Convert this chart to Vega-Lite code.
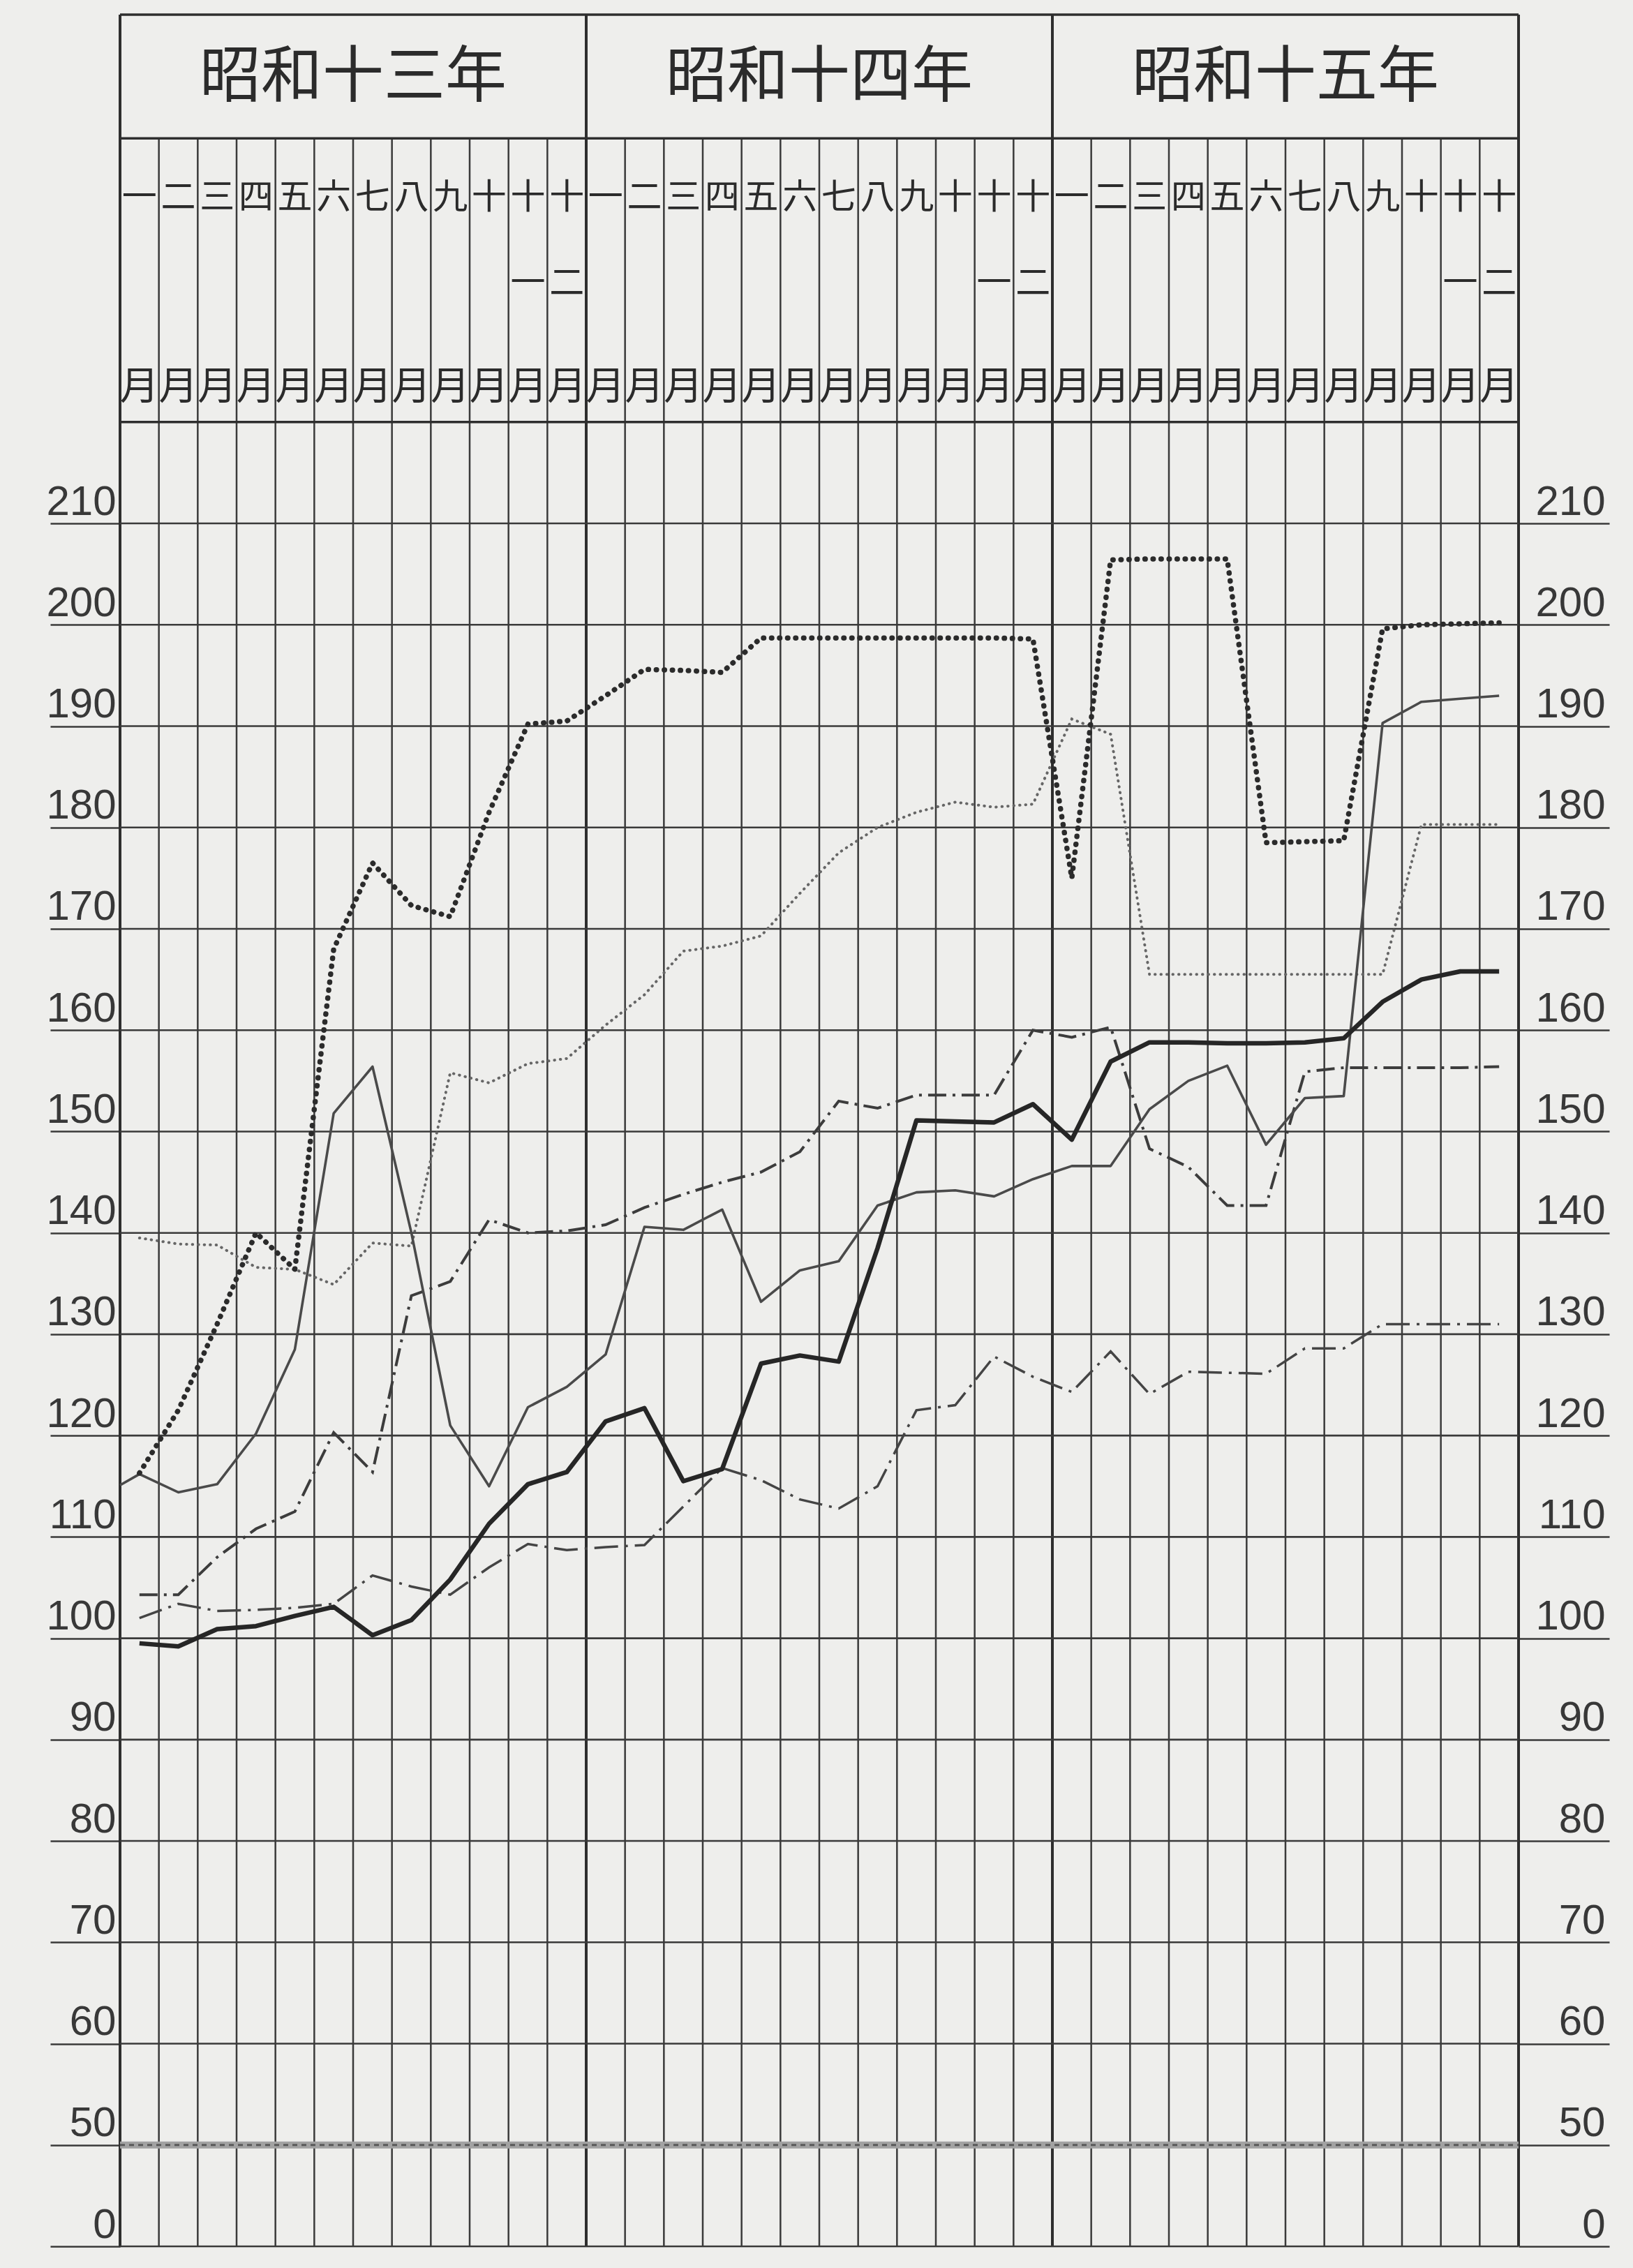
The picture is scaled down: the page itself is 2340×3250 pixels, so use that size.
{
  "$schema": "https://vega.github.io/schema/vega-lite/v6.json",
  "width": 2004,
  "height": 3198,
  "autosize": {"type": "none"},
  "padding": {"left": 172, "top": 21, "right": 164, "bottom": 31},
  "background": "#eeeeec",
  "config": {"view": {"stroke": null}},
  "datasets": {
    "edges": [{"e":-0.5},{"e":0.5},{"e":1.5},{"e":2.5},{"e":3.5},{"e":4.5},{"e":5.5},{"e":6.5},{"e":7.5},{"e":8.5},{"e":9.5},{"e":10.5},{"e":11.5},{"e":12.5},{"e":13.5},{"e":14.5},{"e":15.5},{"e":16.5},{"e":17.5},{"e":18.5},{"e":19.5},{"e":20.5},{"e":21.5},{"e":22.5},{"e":23.5},{"e":24.5},{"e":25.5},{"e":26.5},{"e":27.5},{"e":28.5},{"e":29.5},{"e":30.5},{"e":31.5},{"e":32.5},{"e":33.5},{"e":34.5},{"e":35.5}],
    "borders": [{"e":-0.5},{"e":11.5},{"e":23.5},{"e":35.5}],
    "hgrid": [{"g":40},{"g":60},{"g":70},{"g":80},{"g":90},{"g":100},{"g":110},{"g":120},{"g":130},{"g":140},{"g":150},{"g":160},{"g":170},{"g":180},{"g":190},{"g":200},{"g":210}],
    "hhead": [{"g":220},{"g":248},{"g":260.2}],
    "brk": [{"g":50}],
    "years": [{"m":5.5,"t":"昭和十三年"},{"m":17.5,"t":"昭和十四年"},{"m":29.5,"t":"昭和十五年"}],
    "months": [
      {"m":0,"top":"一","mid":""},{"m":1,"top":"二","mid":""},{"m":2,"top":"三","mid":""},{"m":3,"top":"四","mid":""},{"m":4,"top":"五","mid":""},{"m":5,"top":"六","mid":""},{"m":6,"top":"七","mid":""},{"m":7,"top":"八","mid":""},{"m":8,"top":"九","mid":""},{"m":9,"top":"十","mid":""},{"m":10,"top":"十","mid":"一"},{"m":11,"top":"十","mid":"二"},
      {"m":12,"top":"一","mid":""},{"m":13,"top":"二","mid":""},{"m":14,"top":"三","mid":""},{"m":15,"top":"四","mid":""},{"m":16,"top":"五","mid":""},{"m":17,"top":"六","mid":""},{"m":18,"top":"七","mid":""},{"m":19,"top":"八","mid":""},{"m":20,"top":"九","mid":""},{"m":21,"top":"十","mid":""},{"m":22,"top":"十","mid":"一"},{"m":23,"top":"十","mid":"二"},
      {"m":24,"top":"一","mid":""},{"m":25,"top":"二","mid":""},{"m":26,"top":"三","mid":""},{"m":27,"top":"四","mid":""},{"m":28,"top":"五","mid":""},{"m":29,"top":"六","mid":""},{"m":30,"top":"七","mid":""},{"m":31,"top":"八","mid":""},{"m":32,"top":"九","mid":""},{"m":33,"top":"十","mid":""},{"m":34,"top":"十","mid":"一"},{"m":35,"top":"十","mid":"二"}
    ],
    "A": [{"m":0,"v":116.3},{"m":1,"v":122.5},{"m":2,"v":131},{"m":3,"v":140},{"m":4,"v":136.4},{"m":5,"v":168},{"m":6,"v":176.5},{"m":7,"v":172.3},{"m":8,"v":171.2},{"m":9,"v":181.5},{"m":10,"v":190.2},{"m":11,"v":190.5},{"m":12,"v":193},{"m":13,"v":195.6},{"m":14,"v":195.5},{"m":15,"v":195.3},{"m":16,"v":198.7},{"m":17,"v":198.7},{"m":18,"v":198.7},{"m":19,"v":198.7},{"m":20,"v":198.7},{"m":21,"v":198.7},{"m":22,"v":198.7},{"m":23,"v":198.6},{"m":24,"v":175},{"m":25,"v":206.4},{"m":26,"v":206.5},{"m":27,"v":206.5},{"m":28,"v":206.5},{"m":29,"v":178.5},{"m":30,"v":178.6},{"m":31,"v":178.7},{"m":32,"v":199.6},{"m":33,"v":200},{"m":34,"v":200.1},{"m":35,"v":200.2}],
    "B": [{"m":-0.5,"v":115.1},{"m":0,"v":116.2},{"m":1,"v":114.4},{"m":2,"v":115.2},{"m":3,"v":120.2},{"m":4,"v":128.5},{"m":5,"v":151.8},{"m":6,"v":156.4},{"m":7,"v":140},{"m":8,"v":121},{"m":9,"v":115},{"m":10,"v":122.8},{"m":11,"v":124.8},{"m":12,"v":128},{"m":13,"v":140.6},{"m":14,"v":140.3},{"m":15,"v":142.3},{"m":16,"v":133.2},{"m":17,"v":136.3},{"m":18,"v":137.2},{"m":19,"v":142.7},{"m":20,"v":144},{"m":21,"v":144.2},{"m":22,"v":143.6},{"m":23,"v":145.3},{"m":24,"v":146.6},{"m":25,"v":146.6},{"m":26,"v":152.2},{"m":27,"v":155},{"m":28,"v":156.5},{"m":29,"v":148.7},{"m":30,"v":153.3},{"m":31,"v":153.5},{"m":32,"v":190.3},{"m":33,"v":192.4},{"m":34,"v":192.7},{"m":35,"v":193}],
    "C": [{"m":0,"v":99.5},{"m":1,"v":99.2},{"m":2,"v":100.9},{"m":3,"v":101.2},{"m":4,"v":102.2},{"m":5,"v":103.1},{"m":6,"v":100.3},{"m":7,"v":101.8},{"m":8,"v":105.8},{"m":9,"v":111.3},{"m":10,"v":115.2},{"m":11,"v":116.4},{"m":12,"v":121.4},{"m":13,"v":122.7},{"m":14,"v":115.5},{"m":15,"v":116.7},{"m":16,"v":127.1},{"m":17,"v":127.9},{"m":18,"v":127.3},{"m":19,"v":138.5},{"m":20,"v":151.1},{"m":21,"v":151},{"m":22,"v":150.9},{"m":23,"v":152.7},{"m":24,"v":149.2},{"m":25,"v":156.9},{"m":26,"v":158.8},{"m":27,"v":158.8},{"m":28,"v":158.7},{"m":29,"v":158.7},{"m":30,"v":158.8},{"m":31,"v":159.2},{"m":32,"v":162.8},{"m":33,"v":165},{"m":34,"v":165.8},{"m":35,"v":165.8}],
    "D": [{"m":0,"v":104.3},{"m":1,"v":104.3},{"m":2,"v":108},{"m":3,"v":110.8},{"m":4,"v":112.5},{"m":5,"v":120.3},{"m":6,"v":116.4},{"m":7,"v":133.8},{"m":8,"v":135.2},{"m":9,"v":141.3},{"m":10,"v":140},{"m":11,"v":140.2},{"m":12,"v":140.8},{"m":13,"v":142.5},{"m":14,"v":143.8},{"m":15,"v":145},{"m":16,"v":146},{"m":17,"v":148},{"m":18,"v":153},{"m":19,"v":152.3},{"m":20,"v":153.6},{"m":21,"v":153.6},{"m":22,"v":153.6},{"m":23,"v":160},{"m":24,"v":159.3},{"m":25,"v":160.3},{"m":26,"v":148.3},{"m":27,"v":146.5},{"m":28,"v":142.7},{"m":29,"v":142.7},{"m":30,"v":155.9},{"m":31,"v":156.3},{"m":32,"v":156.3},{"m":33,"v":156.3},{"m":34,"v":156.3},{"m":35,"v":156.4}],
    "E": [{"m":0,"v":102},{"m":1,"v":103.4},{"m":2,"v":102.7},{"m":3,"v":102.8},{"m":4,"v":103},{"m":5,"v":103.4},{"m":6,"v":106.2},{"m":7,"v":105.1},{"m":8,"v":104.3},{"m":9,"v":107},{"m":10,"v":109.3},{"m":11,"v":108.7},{"m":12,"v":109},{"m":13,"v":109.2},{"m":14,"v":113},{"m":15,"v":116.8},{"m":16,"v":115.6},{"m":17,"v":113.7},{"m":18,"v":112.8},{"m":19,"v":115},{"m":20,"v":122.5},{"m":21,"v":123},{"m":22,"v":127.8},{"m":23,"v":125.8},{"m":24,"v":124.3},{"m":25,"v":128.3},{"m":26,"v":124.1},{"m":27,"v":126.3},{"m":28,"v":126.2},{"m":29,"v":126.1},{"m":30,"v":128.6},{"m":31,"v":128.6},{"m":32,"v":131},{"m":33,"v":131},{"m":34,"v":131},{"m":35,"v":131}],
    "F": [{"m":0,"v":139.5},{"m":1,"v":138.9},{"m":2,"v":138.8},{"m":3,"v":136.6},{"m":4,"v":136.4},{"m":5,"v":134.9},{"m":6,"v":139},{"m":7,"v":138.7},{"m":8,"v":155.8},{"m":9,"v":154.8},{"m":10,"v":156.7},{"m":11,"v":157.2},{"m":12,"v":160.5},{"m":13,"v":163.5},{"m":14,"v":167.8},{"m":15,"v":168.3},{"m":16,"v":169.3},{"m":17,"v":173.5},{"m":18,"v":177.5},{"m":19,"v":180},{"m":20,"v":181.5},{"m":21,"v":182.5},{"m":22,"v":182},{"m":23,"v":182.3},{"m":24,"v":190.7},{"m":25,"v":189.2},{"m":26,"v":165.5},{"m":27,"v":165.5},{"m":28,"v":165.5},{"m":29,"v":165.5},{"m":30,"v":165.5},{"m":31,"v":165.5},{"m":32,"v":165.5},{"m":33,"v":180.3},{"m":34,"v":180.3},{"m":35,"v":180.3}]
  },
  "resolve": {"axis": {"y": "independent"}},
  "layer": [
    {
      "data": {"name": "edges"},
      "mark": {"type": "rule", "color": "#3a3a3a", "strokeWidth": 2.5},
      "encoding": {
        "x": {"field": "e", "type": "quantitative", "scale": {"domain": [-0.5, 35.5], "zero": false, "nice": false}, "axis": null},
        "y": {"datum": 40, "type": "quantitative", "scale": {"domain": [40, 260.2], "zero": false, "nice": false}, "axis": null},
        "y2": {"datum": 248}
      }
    },
    {
      "data": {"name": "borders"},
      "mark": {"type": "rule", "color": "#2e2e2e", "strokeWidth": 4},
      "encoding": {
        "x": {"field": "e", "type": "quantitative", "scale": {"domain": [-0.5, 35.5], "zero": false, "nice": false}, "axis": null},
        "y": {"datum": 40, "type": "quantitative", "scale": {"domain": [40, 260.2], "zero": false, "nice": false}, "axis": null},
        "y2": {"datum": 260.2}
      }
    },
    {
      "data": {"name": "hgrid"},
      "mark": {"type": "rule", "color": "#3a3a3a", "strokeWidth": 2.6},
      "encoding": {
        "x": {"datum": -0.5, "type": "quantitative", "scale": {"domain": [-0.5, 35.5], "zero": false, "nice": false}, "axis": null},
        "x2": {"datum": 35.5},
        "y": {
          "field": "g", "type": "quantitative",
          "scale": {"domain": [40, 260.2], "zero": false, "nice": false},
          "axis": {
            "orient": "left", "title": null,
            "values": [40, 50, 60, 70, 80, 90, 100, 110, 120, 130, 140, 150, 160, 170, 180, 190, 200, 210],
            "labelExpr": "datum.value == 40 ? '0' : datum.label",
            "domain": false, "grid": false,
            "tickSize": 100, "tickWidth": 2.6, "tickColor": "#3a3a3a",
            "labelPadding": -94, "labelAlign": "right", "labelBaseline": "bottom",
            "labelFont": "Liberation Sans", "labelFontSize": 60, "labelColor": "#383838",
            "labelOverlap": false, "labelFlush": false, "labelBound": false
          }
        }
      }
    },
    {
      "data": {"name": "hhead"},
      "mark": {"type": "rule", "color": "#2e2e2e", "strokeWidth": 3.5},
      "encoding": {
        "x": {"datum": -0.5, "type": "quantitative", "scale": {"domain": [-0.5, 35.5], "zero": false, "nice": false}, "axis": null},
        "x2": {"datum": 35.5},
        "y": {"field": "g", "type": "quantitative", "scale": {"domain": [40, 260.2], "zero": false, "nice": false}, "axis": null}
      }
    },
    {
      "data": {"name": "brk"},
      "mark": {"type": "rule", "color": "#a2a2a2", "strokeWidth": 10},
      "encoding": {
        "x": {"datum": -0.5, "type": "quantitative", "scale": {"domain": [-0.5, 35.5], "zero": false, "nice": false}, "axis": null},
        "x2": {"datum": 35.5},
        "y": {"field": "g", "type": "quantitative", "scale": {"domain": [40, 260.2], "zero": false, "nice": false}, "axis": null}
      }
    },
    {
      "data": {"name": "brk"},
      "mark": {"type": "rule", "color": "#5a5a5a", "strokeWidth": 3, "strokeDash": [7, 6]},
      "encoding": {
        "x": {"datum": -0.5, "type": "quantitative", "scale": {"domain": [-0.5, 35.5], "zero": false, "nice": false}, "axis": null},
        "x2": {"datum": 35.5},
        "y": {"field": "g", "type": "quantitative", "scale": {"domain": [40, 260.2], "zero": false, "nice": false}, "axis": null}
      }
    },
    {
      "data": {"name": "years"},
      "mark": {"type": "text", "font": "Noto Sans CJK JP", "fontSize": 88, "color": "#2b2b2b", "align": "center", "baseline": "middle"},
      "encoding": {
        "x": {"field": "m", "type": "quantitative", "scale": {"domain": [-0.5, 35.5], "zero": false, "nice": false}, "axis": null},
        "y": {"datum": 253.9, "type": "quantitative", "scale": {"domain": [40, 260.2], "zero": false, "nice": false}, "axis": null},
        "text": {"field": "t"}
      }
    },
    {
      "data": {"name": "months"},
      "mark": {"type": "text", "font": "Noto Sans CJK JP", "fontSize": 50, "color": "#2b2b2b", "align": "center", "baseline": "middle"},
      "encoding": {
        "x": {"field": "m", "type": "quantitative", "scale": {"domain": [-0.5, 35.5], "zero": false, "nice": false}, "axis": null},
        "y": {"datum": 242.1, "type": "quantitative", "scale": {"domain": [40, 260.2], "zero": false, "nice": false}, "axis": null},
        "text": {"field": "top"}
      }
    },
    {
      "data": {"name": "months"},
      "mark": {"type": "text", "font": "Noto Sans CJK JP", "fontSize": 50, "color": "#2b2b2b", "align": "center", "baseline": "middle"},
      "encoding": {
        "x": {"field": "m", "type": "quantitative", "scale": {"domain": [-0.5, 35.5], "zero": false, "nice": false}, "axis": null},
        "y": {"datum": 233.6, "type": "quantitative", "scale": {"domain": [40, 260.2], "zero": false, "nice": false}, "axis": null},
        "text": {"field": "mid"}
      }
    },
    {
      "data": {"name": "months"},
      "mark": {"type": "text", "font": "Noto Sans CJK JP", "fontSize": 56, "color": "#2b2b2b", "align": "center", "baseline": "middle", "text": "月"},
      "encoding": {
        "x": {"field": "m", "type": "quantitative", "scale": {"domain": [-0.5, 35.5], "zero": false, "nice": false}, "axis": null},
        "y": {"datum": 223.4, "type": "quantitative", "scale": {"domain": [40, 260.2], "zero": false, "nice": false}, "axis": null}
      }
    },
    {
      "data": {"name": "F"},
      "mark": {"type": "line", "color": "#666666", "strokeWidth": 4, "strokeDash": [0.5, 8], "strokeCap": "round"},
      "encoding": {
        "x": {"field": "m", "type": "quantitative", "scale": {"domain": [-0.5, 35.5], "zero": false, "nice": false}, "axis": null},
        "y": {"field": "v", "type": "quantitative", "scale": {"domain": [40, 260.2], "zero": false, "nice": false}, "axis": null}
      }
    },
    {
      "data": {"name": "E"},
      "mark": {"type": "line", "color": "#444444", "strokeWidth": 3.5, "strokeDash": [34, 10, 4, 10]},
      "encoding": {
        "x": {"field": "m", "type": "quantitative", "scale": {"domain": [-0.5, 35.5], "zero": false, "nice": false}, "axis": null},
        "y": {"field": "v", "type": "quantitative", "scale": {"domain": [40, 260.2], "zero": false, "nice": false}, "axis": null}
      }
    },
    {
      "data": {"name": "D"},
      "mark": {"type": "line", "color": "#3c3c3c", "strokeWidth": 4, "strokeDash": [26, 9, 4, 9]},
      "encoding": {
        "x": {"field": "m", "type": "quantitative", "scale": {"domain": [-0.5, 35.5], "zero": false, "nice": false}, "axis": null},
        "y": {"field": "v", "type": "quantitative", "scale": {"domain": [40, 260.2], "zero": false, "nice": false}, "axis": null}
      }
    },
    {
      "data": {"name": "B"},
      "mark": {"type": "line", "color": "#4a4a4a", "strokeWidth": 3.6, "strokeJoin": "round"},
      "encoding": {
        "x": {"field": "m", "type": "quantitative", "scale": {"domain": [-0.5, 35.5], "zero": false, "nice": false}, "axis": null},
        "y": {"field": "v", "type": "quantitative", "scale": {"domain": [40, 260.2], "zero": false, "nice": false}, "axis": null}
      }
    },
    {
      "data": {"name": "A"},
      "mark": {"type": "line", "color": "#2b2b2b", "strokeWidth": 7.5, "strokeDash": [0.5, 11], "strokeCap": "round"},
      "encoding": {
        "x": {"field": "m", "type": "quantitative", "scale": {"domain": [-0.5, 35.5], "zero": false, "nice": false}, "axis": null},
        "y": {"field": "v", "type": "quantitative", "scale": {"domain": [40, 260.2], "zero": false, "nice": false}, "axis": null}
      }
    },
    {
      "data": {"name": "C"},
      "mark": {"type": "line", "color": "#262626", "strokeWidth": 6.5, "strokeJoin": "round"},
      "encoding": {
        "x": {"field": "m", "type": "quantitative", "scale": {"domain": [-0.5, 35.5], "zero": false, "nice": false}, "axis": null},
        "y": {
          "field": "v", "type": "quantitative",
          "scale": {"domain": [40, 260.2], "zero": false, "nice": false},
          "axis": {
            "orient": "right", "title": null,
            "values": [40, 50, 60, 70, 80, 90, 100, 110, 120, 130, 140, 150, 160, 170, 180, 190, 200, 210],
            "labelExpr": "datum.value == 40 ? '0' : datum.label",
            "domain": false, "grid": false,
            "tickSize": 130, "tickWidth": 2.6, "tickColor": "#3a3a3a",
            "labelPadding": -6, "labelAlign": "right", "labelBaseline": "bottom",
            "labelFont": "Liberation Sans", "labelFontSize": 60, "labelColor": "#383838",
            "labelOverlap": false, "labelFlush": false, "labelBound": false
          }
        }
      }
    }
  ]
}
